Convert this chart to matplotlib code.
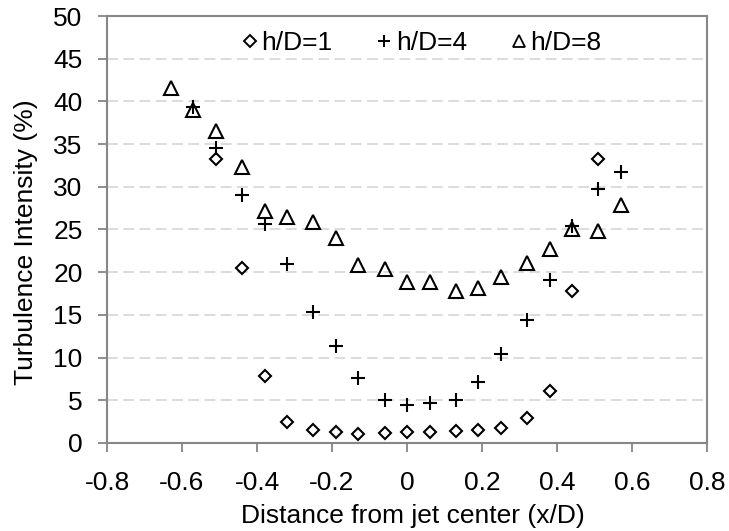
import matplotlib
matplotlib.use("Agg")
import matplotlib.pyplot as plt
from matplotlib.lines import Line2D

plt.rcParams['font.family'] = ['Liberation Sans', 'DejaVu Sans']

x_all = [-0.63, -0.57, -0.51, -0.44, -0.38, -0.32, -0.25, -0.19, -0.13, -0.06,
         0.0, 0.06, 0.13, 0.19, 0.25, 0.32, 0.38, 0.44, 0.51, 0.57]

x_h1 = [-0.51, -0.44, -0.38, -0.32, -0.25, -0.19, -0.13, -0.06,
        0.0, 0.06, 0.13, 0.19, 0.25, 0.32, 0.38, 0.44, 0.51]
y_h1 = [33.2, 20.5, 7.8, 2.5, 1.5, 1.25, 1.1, 1.2,
        1.3, 1.3, 1.4, 1.5, 1.8, 2.9, 6.1, 17.8, 33.3]

x_h4 = [-0.57, -0.51, -0.44, -0.38, -0.32, -0.25, -0.19, -0.13, -0.06,
        0.0, 0.06, 0.13, 0.19, 0.25, 0.32, 0.38, 0.44, 0.51, 0.57]
y_h4 = [39.4, 34.6, 29.0, 25.7, 21.0, 15.3, 11.3, 7.6, 5.0,
        4.45, 4.65, 5.0, 7.1, 10.4, 14.4, 19.1, 25.4, 29.8, 31.7]

x_h8 = x_all
y_h8 = [41.6, 39.0, 36.5, 32.3, 27.2, 26.5, 25.9, 24.0, 20.8, 20.4,
        18.8, 18.9, 17.8, 18.1, 19.4, 21.1, 22.7, 25.1, 24.8, 27.9]

labels = ['h/D=1', 'h/D=4', 'h/D=8']
xticks = [-0.8, -0.6, -0.4, -0.2, 0, 0.2, 0.4, 0.6, 0.8]
xticklabels = ['-0.8', '-0.6', '-0.4', '-0.2', '0', '0.2', '0.4', '0.6', '0.8']
yticks = list(range(0, 51, 5))

fig = plt.figure(figsize=(7.29, 5.31), dpi=100)
ax = fig.add_axes([107/729, 1-443/531, 600/729, 427/531])

fs = 19
spine_c = '#868686'

ax.plot(x_h1, y_h1, linestyle='none', marker='D', ms=6.6, mfc='white', mec='black', mew=1.5, zorder=3)
ax.plot(x_h4, y_h4, linestyle='none', marker='+', ms=10, mec='black', mew=1.5, zorder=3)
ax.plot(x_h8, y_h8, linestyle='none', marker='^', ms=10, mfc='none', mec='black', mew=1.5, zorder=3)

ax.set_xlim(-0.8, 0.8)
ax.set_ylim(0, 50)
ax.set_xticks(xticks)
ax.set_xticklabels(xticklabels)
ax.set_yticks(yticks)
ax.tick_params(axis='both', labelsize=fs, direction='out', length=6.5, width=1.3, color=spine_c)
ax.tick_params(axis='y', pad=11)
ax.tick_params(axis='x', pad=14)
for s in ax.spines.values():
    s.set_color(spine_c)
    s.set_linewidth(1.5)

ax.yaxis.grid(True, color='#d9d9d9', linestyle=(0, (6, 3)), linewidth=1.3)
ax.set_axisbelow(True)

ax.set_xlabel('Distance from jet center (x/D)', fontsize=fs, va='center')
ax.xaxis.set_label_coords(0.509, (443-516)/427)
ax.set_ylabel('Turbulence Intensity (%)', fontsize=fs, va='center')
ax.yaxis.set_label_coords((26-107)/600, 0.471)

handles = [
    Line2D([], [], linestyle='none', marker='D', ms=6.5, mfc='white', mec='black', mew=1.4),
    Line2D([], [], linestyle='none', marker='+', ms=9, mec='black', mew=1.4),
    Line2D([], [], linestyle='none', marker='^', ms=8, mfc='none', mec='black', mew=1.3),
]
leg = ax.legend(handles, labels, loc='center', bbox_to_anchor=((421-107)/600, (443-43)/427), ncol=3,
                frameon=False, fontsize=fs, handlelength=0.7, handletextpad=0.08,
                columnspacing=1.62, borderpad=0, borderaxespad=0)

fig.savefig('out.png', dpi=100)
